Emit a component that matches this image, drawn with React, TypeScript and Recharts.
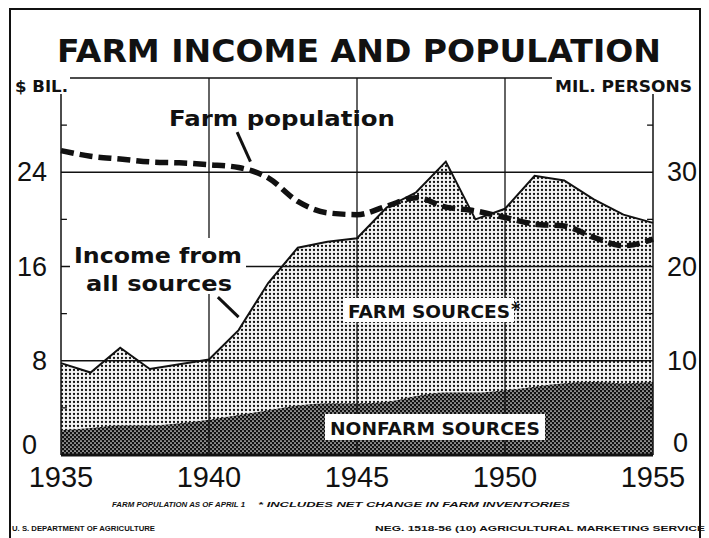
import React from 'react';
import { ComposedChart, Area, Line, XAxis, YAxis, ReferenceLine } from 'recharts';

const years = [1935, 1936, 1937, 1938, 1939, 1940, 1941, 1942, 1943, 1944, 1945, 1946, 1947, 1948, 1949, 1950, 1951, 1952, 1953, 1954, 1955];
// $ billion, all sources (top of the dotted area)
const incomeAllSources = [7.8, 7.0, 9.1, 7.3, 7.7, 8.1, 10.6, 14.6, 17.6, 18.1, 18.4, 21.0, 22.3, 24.9, 20.0, 20.9, 23.7, 23.3, 21.7, 20.4, 19.7];
// $ billion, nonfarm part (dark area)
const incomeNonfarm = [2.1, 2.3, 2.5, 2.5, 2.7, 3.0, 3.4, 3.8, 4.2, 4.4, 4.4, 4.5, 5.0, 5.3, 5.3, 5.5, 5.8, 6.1, 6.2, 6.1, 6.2];
// million persons, right axis
const farmPopulation = [32.3, 31.7, 31.4, 31.1, 31.0, 30.8, 30.5, 29.4, 26.9, 25.7, 25.5, 26.4, 27.3, 26.3, 25.9, 25.2, 24.5, 24.3, 23.1, 22.2, 22.9];

const xTicks = [1935, 1940, 1945, 1950, 1955];
const leftTicks = [0, 8, 16, 24];
const rightTicks = [0, 10, 20, 30];
const leftMinor = [4, 12, 20, 28];
const rightMinor = [5, 15, 25, 35];
const gridYears = [1940, 1945, 1950];

const data = years.map((year, i) => ({
  year,
  total: incomeAllSources[i],
  nonfarm: incomeNonfarm[i],
  pop: farmPopulation[i],
}));

const W = 709;
const H = 538;
const ink = '#111';
const bold = '"DejaVu Sans", sans-serif';
const plain = '"Liberation Sans", Arial, sans-serif';

const LeftTick = (props: any) => {
  const { x, y, payload } = props;
  return (
    <text x={payload.value === 0 ? x - 10 : x} y={y} dy={payload.value === 0 ? -1 : 9} textAnchor="end" fill={ink} fontSize={27} fontFamily={plain}>
      {payload.value}
    </text>
  );
};

const RightTick = (props: any) => {
  const { x, y, payload } = props;
  return (
    <text x={payload.value === 0 ? x + 6 : x} y={y} dy={payload.value === 0 ? -3 : 9} textAnchor="start" fill={ink} fontSize={27} fontFamily={plain}>
      {payload.value}
    </text>
  );
};

export default function App() {
  return (
    <div style={{ position: 'fixed', left: 0, top: 0, width: W, height: H, background: '#fff', overflow: 'hidden' }}>
      <ComposedChart width={W} height={H} data={data} margin={{ top: 78, right: 8, bottom: 53, left: 8 }}>
        <defs>
          <pattern id="farmDots" width="4" height="4" patternUnits="userSpaceOnUse">
            <rect width="4" height="4" fill="#f6f6f6" />
            <circle cx="2" cy="2" r="1.15" fill="#111" />
          </pattern>
          <pattern id="nonfarmDots" width="4" height="4" patternUnits="userSpaceOnUse">
            <rect width="4" height="4" fill="#111" />
            <circle cx="1" cy="1" r="0.85" fill="#f0f0f0" />
            <circle cx="3" cy="3" r="0.85" fill="#f0f0f0" />
          </pattern>
        </defs>
        <XAxis
          dataKey="year"
          type="number"
          domain={[1935, 1955]}
          ticks={xTicks}
          axisLine={{ stroke: ink, strokeWidth: 3 }}
          tickLine={false}
          height={30}
          tickMargin={5}
          tick={{ fill: ink, fontSize: 29, fontFamily: plain }}
        />
        <YAxis
          yAxisId="left"
          domain={[0, 32]}
          ticks={leftTicks}
          width={53}
          axisLine={{ stroke: ink, strokeWidth: 1.5 }}
          tickLine={false}
          tickMargin={8}
          tick={<LeftTick />}
        />
        <YAxis
          yAxisId="right"
          orientation="right"
          domain={[0, 40]}
          ticks={rightTicks}
          width={48}
          axisLine={{ stroke: ink, strokeWidth: 1.5 }}
          tickLine={false}
          tickMargin={8}
          tick={<RightTick />}
        />
        <Area
          yAxisId="left"
          dataKey="total"
          type="linear"
          fill="url(#farmDots)"
          fillOpacity={1}
          stroke={ink}
          strokeWidth={2}
          isAnimationActive={false}
        />
        <Area
          yAxisId="left"
          dataKey="nonfarm"
          type="monotone"
          fill="url(#nonfarmDots)"
          fillOpacity={1}
          stroke="none"
          isAnimationActive={false}
        />
        {[8, 16, 24, 32].map((v) => (
          <ReferenceLine key={'h' + v} yAxisId="left" y={v} stroke={ink} strokeWidth={1.3} />
        ))}
        {gridYears.map((yr) => (
          <ReferenceLine key={'v' + yr} yAxisId="left" x={yr} stroke={ink} strokeWidth={1.3} />
        ))}
        {leftMinor.map((v) => (
          <ReferenceLine key={'lm' + v} yAxisId="left" segment={[{ x: 1935, y: v }, { x: 1935.2, y: v }]} stroke={ink} strokeWidth={1.3} />
        ))}
        {rightMinor.map((v) => (
          <ReferenceLine key={'rm' + v} yAxisId="right" segment={[{ x: 1954.8, y: v }, { x: 1955, y: v }]} stroke={ink} strokeWidth={1.3} />
        ))}
        <Line
          yAxisId="right"
          dataKey="pop"
          type="monotone"
          stroke={ink}
          strokeWidth={5.5}
          strokeDasharray="13 6"
          dot={false}
          isAnimationActive={false}
        />
        {/* pointers from the annotations */}
        <ReferenceLine yAxisId="left" segment={[{ x: 1940.95, y: 27.4 }, { x: 1941.4, y: 24.9 }]} stroke={ink} strokeWidth={3} />
        <ReferenceLine yAxisId="left" segment={[{ x: 1940.3, y: 13.4 }, { x: 1941.0, y: 11.7 }]} stroke={ink} strokeWidth={3} />
      </ComposedChart>

      <svg width={W} height={H} style={{ position: 'absolute', left: 0, top: 0, pointerEvents: 'none' }}>
        <rect x={10} y={9} width={690} height={540} fill="none" stroke={ink} strokeWidth={2} />
        <text x={359} y={62} textAnchor="middle" fontFamily={bold} fontWeight="bold" fontSize={32} fill={ink} textLength={604} lengthAdjust="spacingAndGlyphs">
          FARM INCOME AND POPULATION
        </text>

        <rect x={12} y={76} width={58} height={18} fill="#fff" />
        <text x={15} y={92} fontFamily={bold} fontWeight="bold" fontSize={15} fill={ink} textLength={53} lengthAdjust="spacingAndGlyphs">$ BIL.</text>
        <rect x={552} y={76} width={145} height={18} fill="#fff" />
        <text x={555} y={92} fontFamily={bold} fontWeight="bold" fontSize={15} fill={ink} textLength={137} lengthAdjust="spacingAndGlyphs">MIL. PERSONS</text>

        <text x={282} y={126} textAnchor="middle" fontFamily={bold} fontWeight="bold" fontSize={22} fill={ink} textLength={226} lengthAdjust="spacingAndGlyphs">Farm population</text>

        <rect x={70} y={238} width={176} height={56} fill="#fff" />
        <text x={158} y={263} textAnchor="middle" fontFamily={bold} fontWeight="bold" fontSize={22} fill={ink} textLength={168} lengthAdjust="spacingAndGlyphs">Income from</text>
        <text x={159} y={291} textAnchor="middle" fontFamily={bold} fontWeight="bold" fontSize={22} fill={ink} textLength={146} lengthAdjust="spacingAndGlyphs">all sources</text>

        <rect x={343} y={298} width={171} height={24} fill="#fff" />
        <text x={348} y={318} fontFamily={bold} fontWeight="bold" fontSize={18} fill={ink} textLength={162} lengthAdjust="spacingAndGlyphs">FARM SOURCES</text>
        <text x={511} y={315} fontFamily={bold} fontWeight="bold" fontSize={18} fill={ink}>*</text>

        <rect x={325} y={414} width={220} height={26} fill="#fff" />
        <text x={330} y={435} fontFamily={bold} fontWeight="bold" fontSize={18} fill={ink} textLength={210} lengthAdjust="spacingAndGlyphs">NONFARM SOURCES</text>

        <text x={112} y={507} fontFamily={plain} fontWeight="bold" fontStyle="italic" fontSize={8} fill={ink} textLength={133} lengthAdjust="spacingAndGlyphs">FARM POPULATION AS OF APRIL 1</text>
        <text x={258} y={507} fontFamily={plain} fontWeight="bold" fontStyle="italic" fontSize={8} fill={ink} textLength={312} lengthAdjust="spacingAndGlyphs">* INCLUDES NET CHANGE IN FARM INVENTORIES</text>
        <text x={12} y={531} fontFamily={plain} fontWeight="bold" fontSize={8} fill={ink} textLength={143} lengthAdjust="spacingAndGlyphs">U. S. DEPARTMENT OF AGRICULTURE</text>
        <text x={375} y={531} fontFamily={plain} fontWeight="bold" fontSize={8} fill={ink} textLength={330} lengthAdjust="spacingAndGlyphs">NEG. 1518-56 (10)   AGRICULTURAL MARKETING SERVICE</text>
      </svg>
    </div>
  );
}
